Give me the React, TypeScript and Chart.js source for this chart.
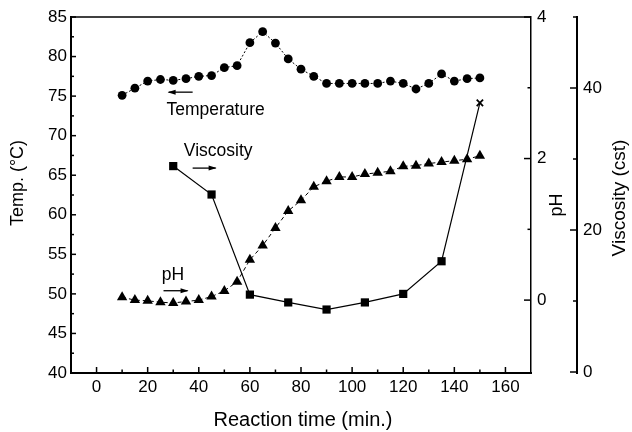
import { useEffect, useRef } from 'react';
import { Chart, registerables } from 'chart.js';

Chart.register(...registerables);

// ---- data ----
const TIME = [10, 15, 20, 25, 30, 35, 40, 45, 50, 55, 60, 65, 70, 75, 80, 85, 90, 95, 100, 105, 110, 115, 120, 125, 130, 135, 140, 145, 150];
const TEMP = [75.1, 76.0, 76.9, 77.1, 77.0, 77.2, 77.5, 77.6, 78.6, 78.85, 81.75, 83.15, 81.7, 79.7, 78.4, 77.5, 76.6, 76.6, 76.6, 76.6, 76.6, 76.9, 76.6, 75.9, 76.6, 77.8, 76.9, 77.2, 77.3];
const PH = [0.04, 0.0, -0.01, -0.03, -0.04, -0.02, 0.0, 0.05, 0.13, 0.26, 0.57, 0.77, 1.02, 1.26, 1.41, 1.6, 1.68, 1.74, 1.74, 1.78, 1.8, 1.82, 1.89, 1.9, 1.93, 1.95, 1.97, 1.99, 2.04];
const VISC_TIME = [30, 45, 60, 75, 90, 105, 120, 135, 150];
const VISC = [29, 25, 10.9, 9.8, 8.8, 9.8, 11, 15.6, 37.9];

// ---- tick labels ----
const X_TICKS = [0, 20, 40, 60, 80, 100, 120, 140, 160];
const X_MINOR = [10, 30, 50, 70, 90, 110, 130, 150];
const TEMP_TICKS = [40, 45, 50, 55, 60, 65, 70, 75, 80, 85];
const TEMP_MINOR = [42.5, 47.5, 52.5, 57.5, 62.5, 67.5, 72.5, 77.5, 82.5];
const PH_TICKS = [0, 2, 4];
const PH_MINOR = [1, 3];
const VISC_TICKS = [0, 20, 40];
const VISC_MINOR = [10, 30, 50];

const FONT = '"Liberation Sans", Arial, Helvetica, sans-serif';

function drawArrow(ctx: CanvasRenderingContext2D, x1: number, y: number, x2: number) {
  ctx.beginPath();
  ctx.moveTo(x1, y);
  ctx.lineTo(x2, y);
  ctx.stroke();
  const d = Math.sign(x2 - x1);
  ctx.beginPath();
  ctx.moveTo(x2 + d * 1, y);
  ctx.lineTo(x2 - d * 7, y - 2.5);
  ctx.lineTo(x2 - d * 7, y + 2.5);
  ctx.closePath();
  ctx.fill();
}

function drawText(ctx: CanvasRenderingContext2D, s: string, x: number, y: number, rot: number, size: number) {
  ctx.save();
  ctx.translate(x, y);
  ctx.rotate(rot);
  ctx.font = `${size}px ${FONT}`;
  ctx.textAlign = 'center';
  ctx.textBaseline = 'middle';
  ctx.fillText(s, 0, 0);
  ctx.restore();
}

const overlay = {
  id: 'overlay',
  afterDraw(chart: any) {
    const { ctx, chartArea: ca, scales } = chart;
    const sx = scales.x, sT = scales.y, sP = scales.yPH, sV = scales.yV;
    ctx.save();
    ctx.strokeStyle = '#000';
    ctx.fillStyle = '#000';
    ctx.lineWidth = 1.5;
    // top frame
    ctx.beginPath();
    ctx.moveTo(ca.left, ca.top);
    ctx.lineTo(ca.right, ca.top);
    ctx.stroke();

    const tick = (x1: number, y1: number, x2: number, y2: number) => {
      ctx.beginPath();
      ctx.moveTo(x1, y1);
      ctx.lineTo(x2, y2);
      ctx.stroke();
    };
    X_TICKS.forEach((v) => { const p = sx.getPixelForValue(v); tick(p, ca.bottom, p, ca.bottom - 6); });
    X_MINOR.forEach((v) => { const p = sx.getPixelForValue(v); tick(p, ca.bottom, p, ca.bottom - 3.5); });
    TEMP_TICKS.forEach((v) => { const p = sT.getPixelForValue(v); tick(ca.left, p, ca.left + 5, p); });
    TEMP_MINOR.forEach((v) => { const p = sT.getPixelForValue(v); tick(ca.left, p, ca.left + 3, p); });
    PH_TICKS.forEach((v) => { const p = sP.getPixelForValue(v); tick(ca.right, p, ca.right - 7, p); });
    PH_MINOR.forEach((v) => { const p = sP.getPixelForValue(v); tick(ca.right, p, ca.right - 3.5, p); });
    VISC_TICKS.forEach((v) => { const p = sV.getPixelForValue(v); tick(sV.left, p, sV.left - 7, p); });
    VISC_MINOR.forEach((v) => { const p = sV.getPixelForValue(v); tick(sV.left, p, sV.left - 4, p); });

    // axis titles
    drawText(ctx, 'Reaction time (min.)', (ca.left + ca.right) / 2 + 2, 420, 0, 20);
    drawText(ctx, 'Temp. (\u00B0C)', sT.left + 18, ca.top + 166, -Math.PI / 2, 18);
    drawText(ctx, 'pH', sP.left + 26, ca.top + 188, -Math.PI / 2, 18);
    drawText(ctx, 'Viscosity (cst)', sV.left + 43, ca.top + 181, -Math.PI / 2, 19);

    // in-plot labels with arrows (positioned in time / temperature units)
    const px = (t: number) => sx.getPixelForValue(t);
    const py = (v: number) => sT.getPixelForValue(v);
    drawText(ctx, 'Temperature', px(46.6), py(73.2), 0, 17.5);
    drawText(ctx, 'Viscosity', px(47.6), py(68.1), 0, 17.5);
    drawText(ctx, 'pH', px(29.9), py(52.4), 0, 17.5);
    ctx.lineWidth = 1.3;
    drawArrow(ctx, px(37.6), py(75.5), px(28.2));
    drawArrow(ctx, px(37.6), py(65.9), px(46.6));
    drawArrow(ctx, px(26.2), py(50.4), px(35.6));
    ctx.restore();
  },
};

export default function App() {
  const ref = useRef<HTMLCanvasElement>(null);
  useEffect(() => {
    Chart.defaults.font.family = FONT;
    Chart.defaults.color = '#000';
    const tickFont = { size: 17, family: FONT };
    const chart = new Chart(ref.current!, {
      type: 'line',
      data: {
        datasets: [
          {
            label: 'Temperature',
            yAxisID: 'y',
            data: TIME.map((t, i) => ({ x: t, y: TEMP[i] })),
            borderColor: '#000',
            backgroundColor: '#000',
            borderWidth: 1,
            borderDash: [2, 2],
            pointStyle: 'circle',
            pointRadius: 4.4,
            pointBorderWidth: 0,
            tension: 0,
          },
          {
            label: 'pH',
            yAxisID: 'yPH',
            data: TIME.map((t, i) => ({ x: t, y: PH[i] })),
            borderColor: '#000',
            backgroundColor: '#000',
            borderWidth: 1,
            borderDash: [4, 3],
            pointStyle: 'triangle',
            pointRadius: 6,
            pointBorderWidth: 0,
            tension: 0,
          },
          {
            label: 'Viscosity',
            yAxisID: 'yV',
            data: VISC_TIME.map((t, i) => ({ x: t, y: VISC[i] })),
            borderColor: '#000',
            backgroundColor: '#000',
            borderWidth: 1.2,
            pointStyle: VISC_TIME.map((_, i) => (i === VISC_TIME.length - 1 ? 'crossRot' : 'rect')),
            pointRadius: VISC_TIME.map((_, i) => (i === VISC_TIME.length - 1 ? 4.5 : 5.8)),
            pointBorderWidth: VISC_TIME.map((_, i) => (i === VISC_TIME.length - 1 ? 1.8 : 0)),
            tension: 0,
          },
        ],
      },
      options: {
        responsive: false,
        animation: false,
        events: [],
        layout: { padding: { top: 17, left: 0, right: 0, bottom: 0 } },
        plugins: { legend: { display: false }, tooltip: { enabled: false }, title: { display: false } },
        scales: {
          x: {
            type: 'linear',
            position: 'bottom',
            min: -10,
            max: 170,
            grid: { display: false, drawTicks: false },
            border: { display: true, color: '#000', width: 2 },
            ticks: { padding: 4, color: '#000', font: tickFont, autoSkip: false, maxRotation: 0 },
            afterBuildTicks: (s: any) => { s.ticks = X_TICKS.map((v) => ({ value: v })); },
            afterFit: (s: any) => { s.height = 59; },
          },
          y: {
            type: 'linear',
            position: 'left',
            min: 40,
            max: 85,
            grid: { display: false, drawTicks: false },
            border: { display: true, color: '#000', width: 2 },
            ticks: { padding: 4, color: '#000', font: tickFont, autoSkip: false },
            afterBuildTicks: (s: any) => { s.ticks = TEMP_TICKS.map((v) => ({ value: v })); },
            afterFit: (s: any) => { s.width = 71; },
          },
          yPH: {
            type: 'linear',
            position: 'right',
            weight: 0,
            min: -1.03,
            max: 4,
            grid: { display: false, drawTicks: false },
            border: { display: true, color: '#000', width: 1.5 },
            ticks: { padding: 6, color: '#000', font: tickFont, autoSkip: false },
            afterBuildTicks: (s: any) => { s.ticks = PH_TICKS.map((v) => ({ value: v })); },
            afterFit: (s: any) => { s.width = 46; },
          },
          yV: {
            type: 'linear',
            position: 'right',
            weight: 1,
            min: -0.14,
            max: 50,
            grid: { display: false, drawTicks: false },
            border: { display: true, color: '#000', width: 2 },
            ticks: { padding: 6, color: '#000', font: tickFont, autoSkip: false },
            afterBuildTicks: (s: any) => { s.ticks = VISC_TICKS.map((v) => ({ value: v })); },
            afterFit: (s: any) => { s.width = 55; },
          },
        },
      },
      plugins: [overlay],
    } as any);
    return () => chart.destroy();
  }, []);
  return (
    <div style={{ position: 'fixed', left: 0, top: 0, width: 632, height: 432, background: '#fff' }}>
      <canvas ref={ref} width={632} height={432} style={{ display: 'block' }} />
    </div>
  );
}
